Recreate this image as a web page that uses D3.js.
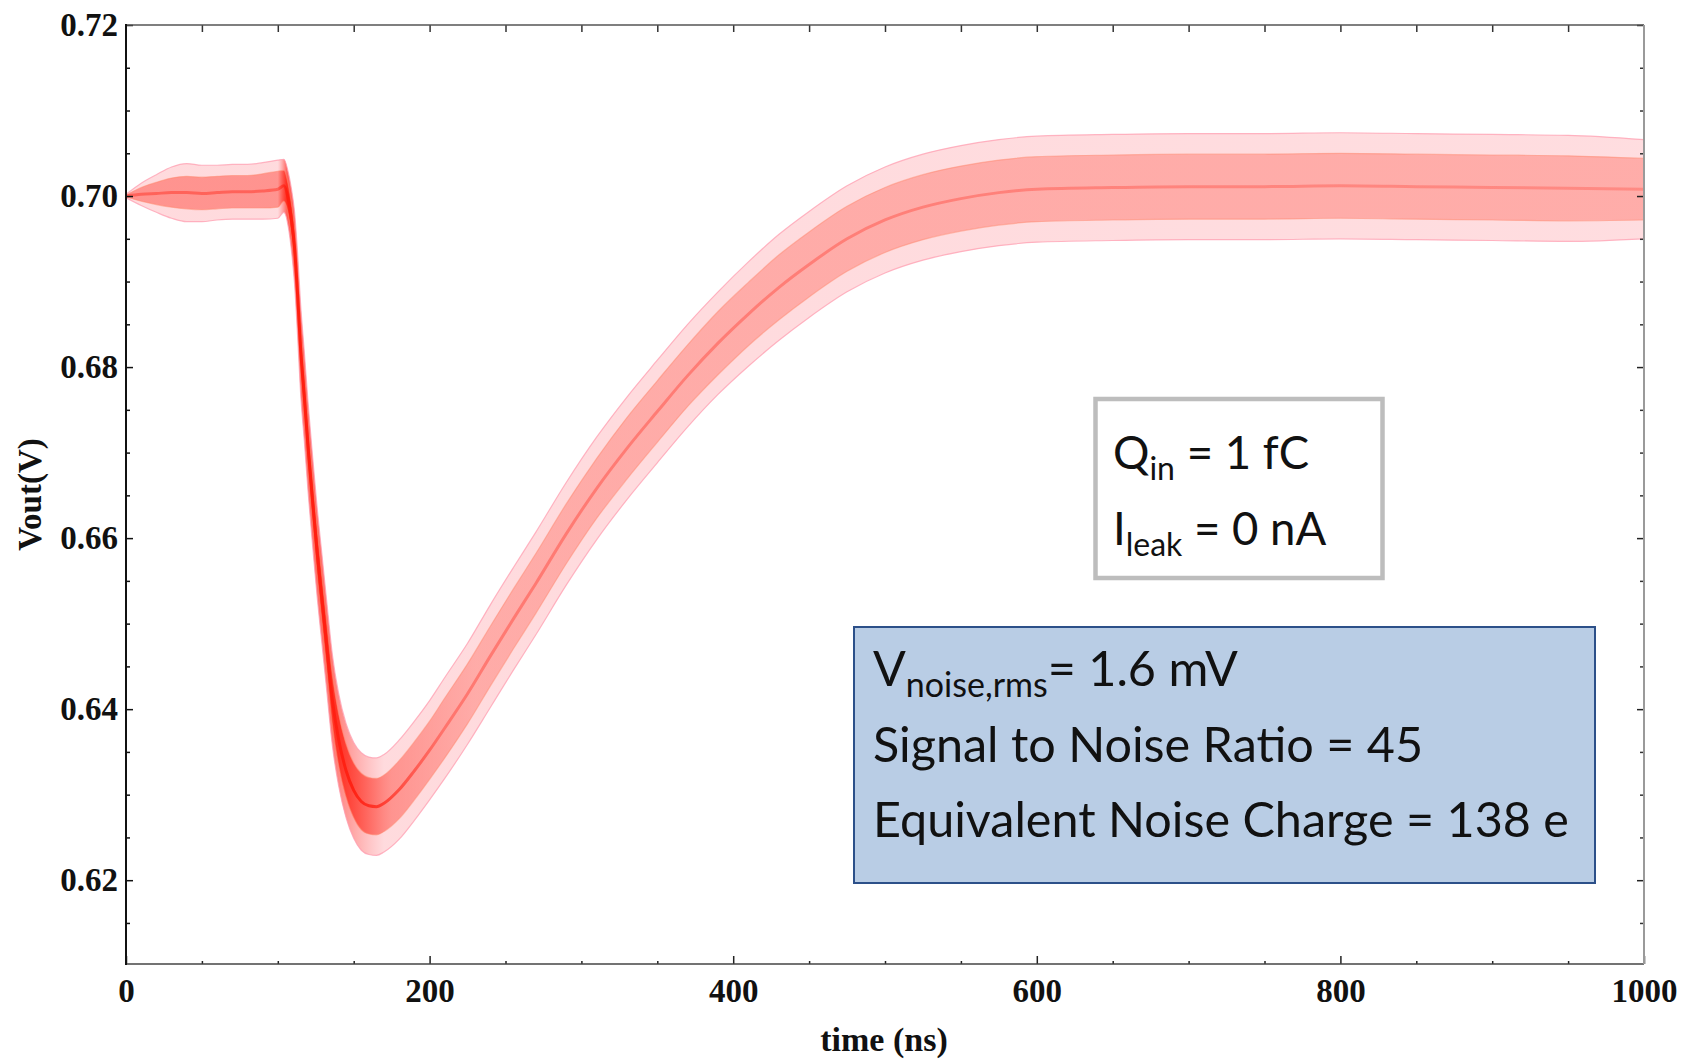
<!DOCTYPE html>
<html>
<head>
<meta charset="utf-8">
<script src="https://cdn.jsdelivr.net/npm/d3@7"></script>
<style>
  html, body { margin: 0; padding: 0; background: #ffffff; }
  svg { display: block; }
</style>
</head>
<body>
<script>
// ---------------- data ----------------
const timeNs = [0, 10, 20, 30, 40, 50, 60, 70, 80, 90, 100,
  104, 107, 109, 111, 113, 115, 117.5, 120, 123, 126, 129, 132, 136, 140, 145, 150, 155, 160, 165, 170,
  180, 190, 200, 210, 225, 240, 255, 270, 290, 310, 330, 350, 370, 390, 410, 430, 450, 475, 500, 525, 550, 575, 600,
  650, 700, 750, 800, 850, 900, 950, 1000];

// centre of the bundle of Monte-Carlo traces (V)
const voutMean = [0.7000, 0.7002, 0.7003, 0.7004, 0.7004, 0.7003, 0.7004, 0.7005, 0.7005, 0.7006, 0.7008,
  0.7012, 0.6995, 0.6972, 0.6940, 0.6886, 0.6822, 0.6765, 0.6705, 0.6642, 0.6582, 0.6530, 0.6478, 0.6410, 0.6365, 0.6328, 0.6305, 0.6292, 0.6287, 0.6286, 0.6290,
  0.6306, 0.6328, 0.6352, 0.6378, 0.6418, 0.6462, 0.6505, 0.6547, 0.6605, 0.6658, 0.6705, 0.6748, 0.6790, 0.6828, 0.6862, 0.6893, 0.6920, 0.6950, 0.6972, 0.6987, 0.6997, 0.7004, 0.7008,
  0.7010, 0.7011, 0.7011, 0.7012, 0.7011, 0.7010, 0.7009, 0.7008];

// half-width of the whole bundle (outermost traces), V
const spreadOuter = [0.0002, 0.0013, 0.0022, 0.0030, 0.0034, 0.0033, 0.0032, 0.0032, 0.0032, 0.0033, 0.0034,
  0.0031, 0.0032, 0.0036, 0.0042, 0.0048, 0.0052, 0.0052, 0.0052, 0.0052, 0.0052, 0.0052, 0.0052, 0.0053, 0.0054, 0.0055, 0.0056, 0.0057, 0.0057, 0.0057, 0.0057,
  0.0058, 0.0058, 0.0058, 0.0059, 0.0059, 0.0060, 0.0060, 0.0060, 0.0060, 0.0060, 0.0060, 0.0060, 0.0060, 0.0060, 0.0061, 0.0062, 0.0062, 0.0062, 0.0062, 0.0062, 0.0062, 0.0062, 0.0062,
  0.0062, 0.0062, 0.0062, 0.0062, 0.0062, 0.0062, 0.0062, 0.0058];

// half-width of the dense core of the bundle, V
const spreadCore = [0.0001, 0.0008, 0.0013, 0.0017, 0.0019, 0.0019, 0.0019, 0.0019, 0.0019, 0.0020, 0.0021,
  0.0018, 0.0017, 0.0019, 0.0022, 0.0025, 0.0026, 0.0026, 0.0026, 0.0026, 0.0026, 0.0026, 0.0027, 0.0029, 0.0030, 0.0031, 0.0032, 0.0033, 0.0033, 0.0033, 0.0033,
  0.0034, 0.0034, 0.0034, 0.0035, 0.0035, 0.0035, 0.0035, 0.0035, 0.0035, 0.0035, 0.0036, 0.0036, 0.0036, 0.0037, 0.0037, 0.0038, 0.0038, 0.0038, 0.0038, 0.0038, 0.0038, 0.0038, 0.0038,
  0.0038, 0.0038, 0.0038, 0.0038, 0.0038, 0.0038, 0.0038, 0.0036];

const xMajorTicks = [0, 200, 400, 600, 800, 1000];
const xMinorTicks = [50, 100, 150, 250, 300, 350, 450, 500, 550, 650, 700, 750, 850, 900, 950];
const yMajorTicks = [0.62, 0.64, 0.66, 0.68, 0.70, 0.72];
const yMinorTicks = [0.615, 0.625, 0.63, 0.635, 0.645, 0.65, 0.655, 0.665, 0.67, 0.675, 0.685, 0.69, 0.695, 0.705, 0.71, 0.715];
const xTitle = "time (ns)";
const yTitle = "Vout(V)";
const inputBox = [
  { main: "Q", sub: "in", rest: " = 1 fC" },
  { main: "I", sub: "leak", rest: " = 0 nA" }
];
const resultBox = [
  { main: "V", sub: "noise,rms", rest: "= 1.6 mV" },
  { main: "Signal to Noise Ratio = 45", sub: "", rest: "" },
  { main: "Equivalent Noise Charge = 138 e", sub: "", rest: "" }
];

// ---------------- layout ----------------
const W = 1682, H = 1059;
const P = { left: 126, right: 1644, top: 25, bottom: 964 };

const x = d3.scaleLinear().domain([0, 1000]).range([P.left, P.right]);
const y = d3.scaleLinear().domain([0.6102, 0.72]).range([P.bottom, P.top]);

const svg = d3.select("body").append("svg").attr("width", W).attr("height", H);
svg.append("rect").attr("width", W).attr("height", H).attr("fill", "#ffffff");

const defs = svg.append("defs");
defs.append("clipPath").attr("id", "plotclip")
  .append("rect").attr("x", P.left).attr("y", P.top)
  .attr("width", P.right - P.left).attr("height", P.bottom - P.top);

// horizontal colour gradients: traces overlap tightly (deep red) on the fast edge
function gradient(id, stops) {
  const lg = defs.append("linearGradient").attr("id", id)
    .attr("gradientUnits", "userSpaceOnUse")
    .attr("x1", x(0)).attr("x2", x(1000)).attr("y1", 0).attr("y2", 0);
  stops.forEach(s => lg.append("stop")
    .attr("offset", (x(s[0]) - x(0)) / (x(1000) - x(0)))
    .attr("stop-color", s[1]).attr("stop-opacity", s[2]));
}
gradient("coreGrad", [[0, "#ff5a50", 0.55], [100, "#ff5a50", 0.55], [106, "#ff2a1c", 0.95], [140, "#ff2a1c", 0.9],
  [175, "#ff5a50", 0.55], [230, "#ff6a5e", 0.42], [1000, "#ff6a5e", 0.42]]);
gradient("outerGrad", [[0, "#ff8d96", 0.32], [100, "#ff8d96", 0.32], [106, "#ff3a30", 0.8], [135, "#ff3a30", 0.7],
  [170, "#ff8d96", 0.32], [1000, "#ff8d96", 0.30]]);
gradient("meanGrad", [[0, "#ff3a2e", 0.55], [100, "#ff3a2e", 0.55], [106, "#ff1e10", 1], [150, "#ff1e10", 0.9],
  [210, "#ff3a2e", 0.45], [1000, "#ff4a3e", 0.35]]);

const rows = timeNs.map((t, i) => ({ t, m: voutMean[i], so: spreadOuter[i], sc: spreadCore[i] }));

const gData = svg.append("g").attr("clip-path", "url(#plotclip)");
const curve = d3.curveMonotoneX;

const areaOuter = d3.area().curve(curve).x(d => x(d.t)).y0(d => y(d.m - d.so)).y1(d => y(d.m + d.so));
const areaCore = d3.area().curve(curve).x(d => x(d.t)).y0(d => y(d.m - d.sc)).y1(d => y(d.m + d.sc));

gData.append("path").datum(rows).attr("d", areaOuter).attr("fill", "url(#outerGrad)");
gData.append("path").datum(rows).attr("d", areaCore).attr("fill", "url(#coreGrad)");

const edge = f => d3.line().curve(curve).x(d => x(d.t)).y(f);
const edges = [
  { f: d => y(d.m + d.so), c: "#ff9db0", w: 1.2, o: 0.75 },
  { f: d => y(d.m - d.so), c: "#ff9db0", w: 1.2, o: 0.75 },
  { f: d => y(d.m + d.sc), c: "#ff8a70", w: 1.2, o: 0.5 },
  { f: d => y(d.m - d.sc), c: "#ff8a70", w: 1.2, o: 0.5 }
];
edges.forEach(e => {
  gData.append("path").datum(rows).attr("d", edge(e.f))
    .attr("fill", "none").attr("stroke", e.c).attr("stroke-width", e.w).attr("stroke-opacity", e.o);
});
gData.append("path").datum(rows)
  .attr("d", d3.line().curve(curve).x(d => x(d.t)).y(d => y(d.m)))
  .attr("fill", "none").attr("stroke", "url(#meanGrad)").attr("stroke-width", 3);

// ---------------- axes ----------------
const tickFont = "'Liberation Serif', 'Times New Roman', serif";
function styleAxis(g, color) {
  g.select(".domain").remove();
  g.selectAll(".tick line").attr("stroke", color).attr("stroke-width", 1.5);
  g.selectAll(".tick text").attr("font-family", tickFont).attr("font-weight", "bold")
    .attr("font-size", 33).attr("fill", "#111");
}

svg.append("g").attr("transform", `translate(${P.left},0)`)
  .call(d3.axisLeft(y).tickValues(yMajorTicks).tickSize(-7).tickPadding(8).tickFormat(d3.format(".2f")))
  .call(g => styleAxis(g, "#111"));
svg.append("g").attr("transform", `translate(${P.left},0)`)
  .call(d3.axisLeft(y).tickValues(yMinorTicks).tickSize(-4).tickFormat(""))
  .call(g => styleAxis(g, "#111"));
svg.append("g").attr("transform", `translate(${P.right},0)`)
  .call(d3.axisRight(y).tickValues(yMajorTicks).tickSize(-7).tickFormat(""))
  .call(g => styleAxis(g, "#222"));
svg.append("g").attr("transform", `translate(${P.right},0)`)
  .call(d3.axisRight(y).tickValues(yMinorTicks).tickSize(-4).tickFormat(""))
  .call(g => styleAxis(g, "#333"));

svg.append("g").attr("transform", `translate(0,${P.bottom})`)
  .call(d3.axisBottom(x).tickValues(xMajorTicks).tickSize(-8).tickPadding(15).tickFormat(d3.format("d")))
  .call(g => styleAxis(g, "#222"));
svg.append("g").attr("transform", `translate(0,${P.bottom})`)
  .call(d3.axisBottom(x).tickValues(xMinorTicks).tickSize(-3).tickFormat(""))
  .call(g => styleAxis(g, "#222"));
svg.append("g").attr("transform", `translate(0,${P.top})`)
  .call(d3.axisTop(x).tickValues(xMajorTicks.slice(1, -1).concat(xMinorTicks)).tickSize(-7).tickFormat(""))
  .call(g => styleAxis(g, "#333"));

// frame
svg.append("line").attr("x1", P.left).attr("x2", P.right).attr("y1", P.top).attr("y2", P.top)
  .attr("stroke", "#555").attr("stroke-width", 1.5);
svg.append("line").attr("x1", P.left).attr("x2", P.right).attr("y1", P.bottom).attr("y2", P.bottom)
  .attr("stroke", "#444").attr("stroke-width", 1.6);
svg.append("line").attr("x1", P.right).attr("x2", P.right).attr("y1", P.top).attr("y2", P.bottom)
  .attr("stroke", "#9a9a9a").attr("stroke-width", 2);
svg.append("line").attr("x1", P.left).attr("x2", P.left).attr("y1", P.top - 1).attr("y2", P.bottom + 1)
  .attr("stroke", "#111").attr("stroke-width", 2);

// axis titles
svg.append("text").attr("x", 884).attr("y", 1051)
  .attr("text-anchor", "middle").attr("font-family", tickFont).attr("font-weight", "bold")
  .attr("font-size", 34).attr("fill", "#111").text(xTitle);
svg.append("text").attr("transform", `translate(41,${(P.top + P.bottom) / 2}) rotate(-90)`)
  .attr("text-anchor", "middle").attr("font-family", tickFont).attr("font-weight", "bold")
  .attr("font-size", 33).attr("fill", "#111").text(yTitle);

// ---------------- annotation boxes ----------------
const boxFont = "Lato, 'Open Sans', sans-serif";
function writeLines(g, lines, x0, baselines, size, subSize, subDrop) {
  lines.forEach((ln, i) => {
    const t = g.append("text").attr("x", x0).attr("y", baselines[i])
      .attr("font-family", boxFont).attr("font-size", size).attr("fill", "#111");
    t.append("tspan").text(ln.main);
    if (ln.sub) {
      t.append("tspan").attr("font-size", subSize).attr("dy", subDrop).text(ln.sub);
      t.append("tspan").attr("dy", -subDrop).text(ln.rest);
    }
  });
}

const gBox1 = svg.append("g");
gBox1.append("rect").attr("x", 1095.5).attr("y", 399).attr("width", 287).attr("height", 179)
  .attr("fill", "#ffffff").attr("stroke", "#bdbdbd").attr("stroke-width", 4.5);
writeLines(gBox1, inputBox, 1113, [469, 545], 45.5, 32, 11);

const gBox2 = svg.append("g");
gBox2.append("rect").attr("x", 854).attr("y", 627).attr("width", 741).attr("height", 256)
  .attr("fill", "#b9cde5").attr("stroke", "#2c5089").attr("stroke-width", 2);
writeLines(gBox2, resultBox, 873, [686, 762, 837], 48.5, 34, 11);
</script>
</body>
</html>
